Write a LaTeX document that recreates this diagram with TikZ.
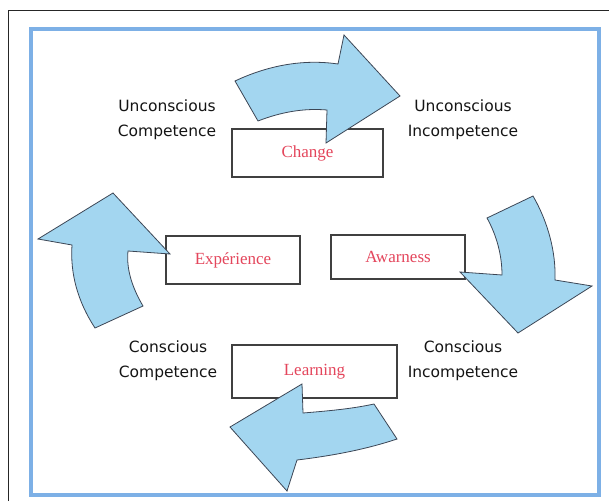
\documentclass[tikz,border=0pt]{standalone}
\usepackage{fontspec}
\setmainfont{Liberation Serif}
\newfontfamily\stagefont{DejaVu Sans}
\usetikzlibrary{positioning}
\definecolor{frameblue}{RGB}{125,176,230}
\definecolor{arrowblue}{RGB}{163,214,240}
\definecolor{arrowline}{RGB}{60,70,85}
\definecolor{labelred}{RGB}{228,70,92}

\begin{document}
\begin{tikzpicture}[
        x=1pt, y=-1pt,
        stage/.style={
            font=\stagefont\fontsize{15.5}{25}\selectfont,
            text=black!92,
            align=center,
            inner sep=0pt
        },
        activity/.style={
            draw=black!75,
            line width=1.2pt,
            fill=white,
            inner sep=0pt,
            font=\fontsize{17}{20}\selectfont,
            text=labelred
        },
        bigarrow/.style={
            fill=arrowblue,
            draw=arrowline,
            line width=0.8pt,
            line join=miter
        }
    ]
        \useasboundingbox (0,0) rectangle (609,501);

        % page frame and blue border
        \draw[black!85, line width=0.8pt] (8,501) -- (8,10) -- (609,10);
        \draw[frameblue, line width=4pt] (30.5,29) rectangle (599,495);

        % the four stages of competence
        \node[stage] (UC) at (167,119.5) {Unconscious\\Competence};
        \node[stage] (UI) at (463,119.5) {Unconscious\\Incompetence};
        \node[stage] (CC) at (168,361) {Conscious\\Competence};
        \node[stage] (CI) at (463,361) {Conscious\\Incompetence};

        % activity boxes
        \node[activity, minimum width=151pt, minimum height=48pt] (change) at (307.5,153) {Change};
        \node[activity, minimum width=134pt, minimum height=48pt] (experience) at (233,260) {Expérience};
        \node[activity, minimum width=134pt, minimum height=44pt] (awareness) at (398,257) {Awarness};
        \node[activity, minimum width=165pt, minimum height=53pt] (learning) at (314.5,371.5) {Learning};

        % top arrow, pointing right
        \draw[bigarrow] (235,81) .. controls (269,65) and (304,59) .. (338,64)
            -- (344,35) -- (400,96) -- (326,143) -- (327,110)
            .. controls (304,108) and (281,112) .. (258,121) -- cycle;

        % right arrow, pointing down
        \draw[bigarrow] (533,196) .. controls (548,222) and (556,252) .. (555,280)
            -- (592,286) -- (518,333) -- (460,272) -- (502,275)
            .. controls (502,256) and (497,236) .. (487,218) -- cycle;

        % bottom arrow, pointing left
        \draw[bigarrow] (397,439) .. controls (364,450) and (330,456) .. (297,460)
            -- (287,491) -- (230,427) -- (302,384) -- (303,413)
            .. controls (327,411) and (351,409) .. (374,404) -- cycle;

        % left arrow, pointing up
        \draw[bigarrow] (95,328) .. controls (78,302) and (70,274) .. (72,245)
            -- (38,239) -- (113,193) -- (170,254) -- (128,251)
            .. controls (126,270) and (133,289) .. (143,306) -- cycle;
    \end{tikzpicture}
\end{document}
